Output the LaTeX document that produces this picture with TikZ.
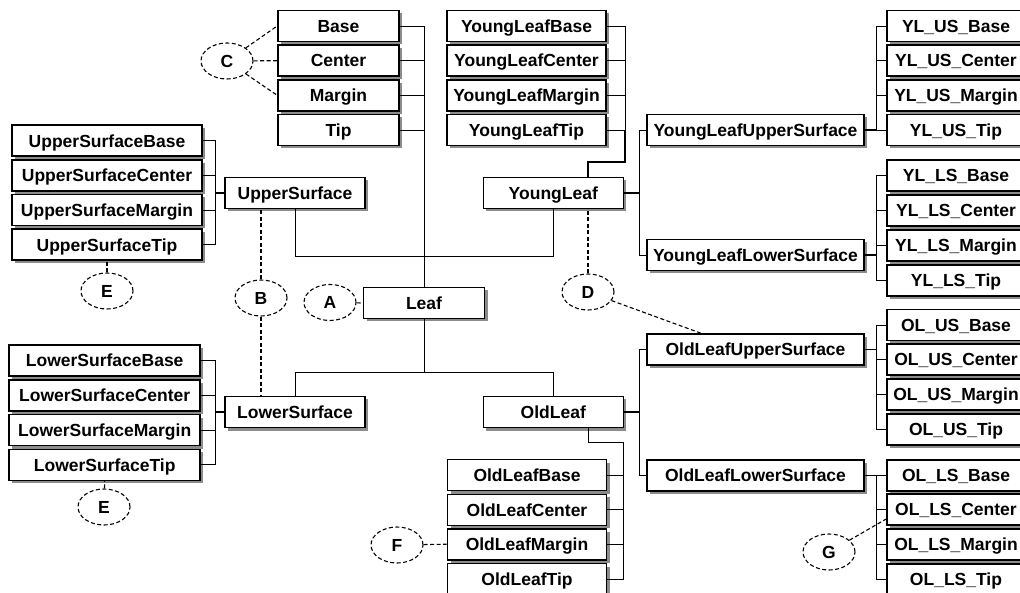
\documentclass[tikz,border=0pt]{standalone}
\usepackage{fontspec}
\setmainfont{Liberation Sans}
\usetikzlibrary{shapes.geometric,shadows,calc}
\tikzset{
  box/.style={draw, line width=1.6pt, fill=white, inner sep=0pt, minimum height=31pt,
    text height=12.5pt, text depth=0pt, font=\bfseries\fontsize{17.5}{20}\selectfont,
    drop shadow={shadow xshift=3pt, shadow yshift=-3pt, fill=black!45, opacity=1}},
  ell/.style={draw, dashed, dash pattern=on 4pt off 2.5pt, line width=1.1pt, ellipse, inner sep=0pt,
    minimum width=52pt, minimum height=36pt, text height=12.5pt, text depth=0pt,
    font=\bfseries\fontsize{17.5}{20}\selectfont},
  conn/.style={line width=0.9pt},
  pconn/.style={line width=1.7pt},
  dconn/.style={dashed, dash pattern=on 4pt off 2.5pt, line width=1.1pt},
}
\begin{document}
\begin{tikzpicture}[x=1pt,y=-1pt]
\useasboundingbox (0,0) rectangle (1020,593);
\clip (0,0) rectangle (1020,593);

% ---- top middle column
\node[box, minimum width=121pt] (b1) at (338.5,26) {Base};
\node[box, minimum width=121pt] (b2) at (338.5,60.7) {Center};
\node[box, minimum width=121pt] (b3) at (338.5,95.3) {Margin};
\node[box, minimum width=121pt] (b4) at (338.5,130) {Tip};

% ---- young leaf column
\node[box, minimum width=159pt] (yl1) at (526.5,26) {YoungLeafBase};
\node[box, minimum width=159pt] (yl2) at (526.5,60.7) {YoungLeafCenter};
\node[box, minimum width=159pt] (yl3) at (526.5,95.3) {YoungLeafMargin};
\node[box, minimum width=159pt] (yl4) at (526.5,130) {YoungLeafTip};

% ---- YL upper surface column
\node[box, minimum width=138pt] (yus1) at (956,26) {YL\_US\_Base};
\node[box, minimum width=138pt] (yus2) at (956,60.7) {YL\_US\_Center};
\node[box, minimum width=138pt] (yus3) at (956,95.3) {YL\_US\_Margin};
\node[box, minimum width=138pt] (yus4) at (956,130) {YL\_US\_Tip};

% ---- YL lower surface column
\node[box, minimum width=138pt] (yls1) at (956,175.5) {YL\_LS\_Base};
\node[box, minimum width=138pt] (yls2) at (956,210.5) {YL\_LS\_Center};
\node[box, minimum width=138pt] (yls3) at (956,245.5) {YL\_LS\_Margin};
\node[box, minimum width=138pt] (yls4) at (956,280.5) {YL\_LS\_Tip};

\node[box, minimum width=217pt] (YLUS) at (755.5,130) {YoungLeafUpperSurface};
\node[box, minimum width=217pt] (YLLS) at (755.5,255) {YoungLeafLowerSurface};

% ---- upper surface column
\node[box, minimum width=190pt] (us1) at (107,140.8) {UpperSurfaceBase};
\node[box, minimum width=190pt] (us2) at (107,175.5) {UpperSurfaceCenter};
\node[box, minimum width=190pt] (us3) at (107,210) {UpperSurfaceMargin};
\node[box, minimum width=190pt] (us4) at (107,244.8) {UpperSurfaceTip};

\node[box, minimum width=140pt] (US) at (295,193) {UpperSurface};
\node[box, minimum width=140pt] (YL) at (553.3,193) {YoungLeaf};
\node[box, minimum width=121pt] (Leaf) at (424,303) {Leaf};

% ---- lower surface column
\node[box, minimum width=191pt] (ls1) at (104.7,360.5) {LowerSurfaceBase};
\node[box, minimum width=191pt] (ls2) at (104.7,395.5) {LowerSurfaceCenter};
\node[box, minimum width=191pt] (ls3) at (104.7,430) {LowerSurfaceMargin};
\node[box, minimum width=191pt] (ls4) at (104.7,464.8) {LowerSurfaceTip};

\node[box, minimum width=140pt] (LS) at (295,412) {LowerSurface};
\node[box, minimum width=140pt] (OL) at (553.3,412) {OldLeaf};

\node[box, minimum width=217pt] (OLUS) at (755.5,349.5) {OldLeafUpperSurface};
\node[box, minimum width=217pt] (OLLS) at (755.5,475.5) {OldLeafLowerSurface};

\node[box, minimum width=138pt] (ous1) at (956,325) {OL\_US\_Base};
\node[box, minimum width=138pt] (ous2) at (956,359.5) {OL\_US\_Center};
\node[box, minimum width=138pt] (ous3) at (956,394.7) {OL\_US\_Margin};
\node[box, minimum width=138pt] (ous4) at (956,429.7) {OL\_US\_Tip};

\node[box, minimum width=138pt] (ols1) at (956,475.5) {OL\_LS\_Base};
\node[box, minimum width=138pt] (ols2) at (956,509.5) {OL\_LS\_Center};
\node[box, minimum width=138pt] (ols3) at (956,544.7) {OL\_LS\_Margin};
\node[box, minimum width=138pt] (ols4) at (956,579.5) {OL\_LS\_Tip};

\node[box, minimum width=159pt] (olb1) at (527,475) {OldLeafBase};
\node[box, minimum width=159pt] (olb2) at (527,509.8) {OldLeafCenter};
\node[box, minimum width=159pt] (olb3) at (527,544.2) {OldLeafMargin};
\node[box, minimum width=159pt] (olb4) at (527,579) {OldLeafTip};

% ---- ellipses
\node[ell] (C) at (227,61) {C};
\node[ell] (E1) at (107,291) {E};
\node[ell] (B) at (261,298) {B};
\node[ell] (A) at (330,302.5) {A};
\node[ell] (D) at (588,292) {D};
\node[ell] (E2) at (104,507) {E};
\node[ell] (F) at (397,545) {F};
\node[ell] (G) at (829,552) {G};

% ---- bus coordinates
\coordinate (ylbus) at (625.3,161.7);
\coordinate (ylin) at (587.7,161.7);
\coordinate (ubus) at (215,193);
\coordinate (lbus) at (215,412);
\coordinate (yjb) at (639.3,193);
\coordinate (ojb) at (639.3,412);
\coordinate (rbus) at (876.7,0);
\coordinate (j1) at (424,372.7);
\coordinate (olbus) at (623.3,442.7);
\coordinate (usj) at (295,256);

% ---- solid connectors
\draw[conn] (b1.east) -| (Leaf.north);
\foreach \n in {b2,b3,b4} \draw[conn] (\n.east) -- (\n.east -| Leaf.north);

\draw[conn] (yl1.east) -| (yl4.east -| ylbus);
\foreach \n in {yl2,yl3,yl4} \draw[conn] (\n.east) -- (\n.east -| ylbus);
\draw[pconn] (yl4.east -| ylbus) -- (ylbus) -- (ylin) -- (ylin |- YL.north);

\draw[conn] (us1.east) -| (us4.east -| ubus) -- (us4.east);
\foreach \n in {us2,us3} \draw[conn] (\n.east) -- (\n.east -| ubus);
\draw[pconn] (US.west) -- (ubus);

\draw[conn] (ls1.east) -| (ls4.east -| lbus) -- (ls4.east);
\foreach \n in {ls2,ls3} \draw[conn] (\n.east) -- (\n.east -| lbus);
\draw[pconn] (LS.west) -- (lbus);

\draw[conn] (US.south) -- (usj) -| (YL.south);
\draw[conn] (Leaf.south) -- (j1);
\draw[conn] (LS.north) |- (j1) -| (OL.north);

\draw[pconn] (YL.east) -- (yjb);
\draw[conn] (YLUS.west) -| (YLLS.west -| yjb) -- (YLLS.west);

\draw[pconn] (OL.east) -- (ojb);
\draw[conn] (OLUS.west) -| (OLLS.west -| ojb) -- (OLLS.west);

\draw[conn] (yus1.west) -| (yus4.west -| rbus) -- (yus4.west);
\foreach \n in {yus2,yus3} \draw[conn] (\n.west) -- (\n.west -| rbus);
\draw[pconn] (YLUS.east) -- (YLUS.east -| rbus);

\draw[conn] (yls1.west) -| (yls4.west -| rbus) -- (yls4.west);
\foreach \n in {yls2,yls3} \draw[conn] (\n.west) -- (\n.west -| rbus);
\draw[pconn] (YLLS.east) -- (YLLS.east -| rbus);

\draw[conn] (ous1.west) -| (ous4.west -| rbus) -- (ous4.west);
\foreach \n in {ous2,ous3} \draw[conn] (\n.west) -- (\n.west -| rbus);
\draw[pconn] (OLUS.east) -- (OLUS.east -| rbus);

\draw[conn] (ols1.west) -| (ols4.west -| rbus) -- (ols4.west);
\foreach \n in {ols2,ols3} \draw[conn] (\n.west) -- (\n.west -| rbus);
\draw[pconn] (OLLS.east) -- (OLLS.east -| rbus);

\draw[conn] (OL.south -| 588.3,0) -- (588.3,442.7) -- (olbus) -- (olb4.east -| olbus) -- (olb4.east);
\foreach \n in {olb1,olb2,olb3} \draw[conn] (\n.east) -- (\n.east -| olbus);

% ---- dashed connectors
\draw[dconn] (C) -- (b1.west);
\draw[dconn] (C) -- (b2.west);
\draw[dconn] (C) -- (b3.west);
\draw[dconn] (E1) -- (us4.south);
\draw[dconn] (E2) -- (ls4.south);
\draw[dconn] (B.north) -- (US.south -| B.north);
\draw[dconn] (B.south) -- (LS.north -| B.south);
\draw[dconn] (A) -- (Leaf.west);
\draw[dconn] (D.north) -- (YL.south -| D.north);
\draw[dconn] (D) -- ($(OLUS.north west)!0.25!(OLUS.north east)$);
\draw[dconn] (F) -- (olb3.west);
\draw[dconn] (G) -- ($(ols2.west)+(0,9.5)$);
\end{tikzpicture}
\end{document}
